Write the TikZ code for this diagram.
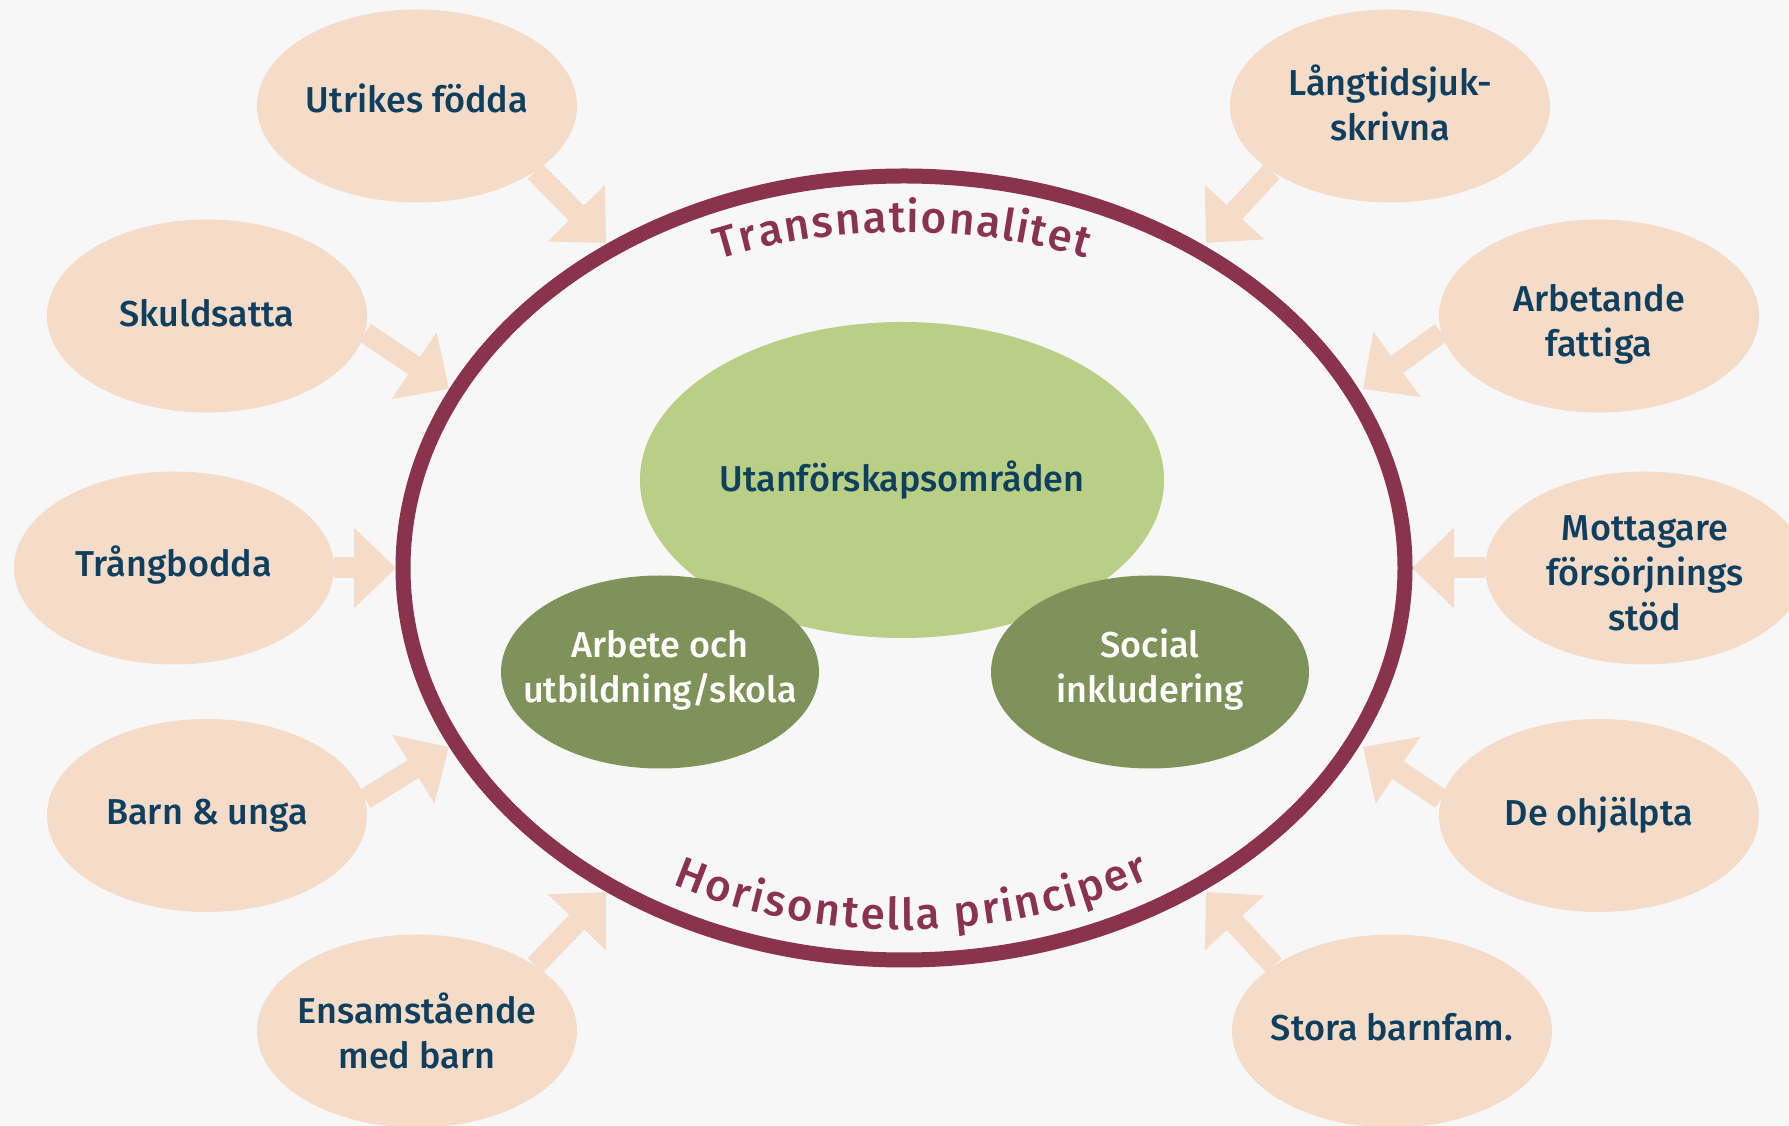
\documentclass[tikz,border=0pt]{standalone}
\usepackage{fontspec}
\setmainfont{Fira Sans Medium}
\usetikzlibrary{shapes.geometric,arrows.meta,decorations.text}
\definecolor{bg}{HTML}{F7F7F7}
\definecolor{peach}{HTML}{F5DCC9}
\definecolor{maroon}{HTML}{8A334E}
\definecolor{lgreen}{HTML}{B8CF85}
\definecolor{dgreen}{HTML}{7E9259}
\definecolor{navy}{HTML}{0F3F5F}
\newcommand{\lblsize}{\fontsize{18pt}{22.5pt}\selectfont}
\newcommand{\curvesize}{\fontsize{22pt}{26pt}\selectfont}
\tikzset{
  peachbox/.style={ellipse, fill=peach, minimum width=160pt, minimum height=96.5pt, inner sep=0pt},
  lbl/.style={align=center, text=navy, font=\lblsize, inner sep=0pt},
  wlbl/.style={align=center, text=white, font=\lblsize, inner sep=0pt},
  arr/.style={draw=peach, line width=10.5pt, -{Triangle[length=21pt,width=39pt]}},
  darkbox/.style={ellipse, fill=dgreen, minimum width=159pt, minimum height=96.5pt, inner sep=0pt},
  curvetext/.style={decorate, decoration={text effects along path, text={#1},
    text effects/.cd, text along path, fit text to path,
    characters={text=maroon, font=\curvesize}}},
}
\begin{document}
\begin{tikzpicture}[x=0.5pt,y=0.5pt]
\useasboundingbox (0,0) rectangle (1789,1125);
\clip (0,0) rectangle (1789,1125);
\fill[bg] (0,0) rectangle (1789,1125);
% arrow tips on the outer edge of the big ring
\coordinate (t1) at (606,882);
\coordinate (t2) at (449,736);
\coordinate (t3) at (396,557);
\coordinate (t4) at (449,378);
\coordinate (t5) at (606,233);
\coordinate (t6) at (1206,882);
\coordinate (t7) at (1363,736);
\coordinate (t8) at (1412,557);
\coordinate (t9) at (1363,378);
\coordinate (t10) at (1206,233);
% peach ellipses
\node[peachbox] (utr) at (417,1019) {};
\node[peachbox] (sku) at (207,809) {};
\node[peachbox] (tra) at (174,557) {};
\node[peachbox] (bar) at (207,309.5) {};
\node[peachbox] (ens) at (417,94) {};
\node[peachbox] (lan) at (1390,1019) {};
\node[peachbox] (arb) at (1599,809) {};
\node[peachbox] (mot) at (1645,557) {};
\node[peachbox] (deo) at (1599,309.5) {};
\node[peachbox] (sto) at (1392,94) {};
% arrows
\draw[arr] (utr.-29) -- (t1);
\draw[arr] (sku.-6) -- (t2);
\draw[arr] (tra.0) -- (t3);
\draw[arr] (bar.6) -- (t4);
\draw[arr] (ens.29) -- (t5);
\draw[arr] (lan.209) -- (t6);
\draw[arr] (arb.186) -- (t7);
\draw[arr] (mot.180) -- (t8);
\draw[arr] (deo.174) -- (t9);
\draw[arr] (sto.151) -- (t10);
% labels
\node[lbl] (utrl) at ([yshift=4pt]utr) {Utrikes födda};
\node[lbl] (skul) at ([yshift=1.5pt]sku) {Skuldsatta};
\node[lbl] (tral) at ([yshift=1.5pt]tra) {Trångbodda};
\node[lbl] (barl) at (bar) {Barn \& unga};
\node[lbl] (ensl) at (ens) {Ensamstående\\med barn};
\node[lbl] (lanl) at ([yshift=1.5pt]lan) {Långtidsjuk-\\skrivna};
\node[lbl] (arbl) at ([yshift=-4pt]arb) {Arbetande\\fattiga};
\node[lbl] (motl) at ([yshift=-2.5pt]mot) {Mottagare\\försörjnings\\stöd};
\node[lbl] (deol) at (deo) {De ohjälpta};
\node[lbl] (stol) at ([yshift=2pt]sto) {Stora barnfam.};
% main ring
\node[ellipse, draw=maroon, line width=7.5pt, minimum width=501pt, minimum height=392pt, inner sep=0pt] (ring) at (904,557) {};
% green areas
\node[ellipse, fill=lgreen, minimum width=262pt, minimum height=158pt, inner sep=0pt] (big) at (902,645) {};
\node[lbl] (bigl) at (big) {Utanförskapsområden};
\node[darkbox] (arbe) at (660,453) {};
\node[darkbox] (soc) at (1150,453) {};
\node[wlbl] (arbel) at ([yshift=1pt]arbe) {Arbete och\\utbildning/skola};
\node[wlbl] (socl) at ([yshift=1pt]soc) {Social\\inkludering};
% curved texts
\path[curvetext={Transnationalitet}]
  (718.9,865.8) arc[start angle=113.2, end angle=67.2, x radius=235pt, y radius=168pt];
\path[curvetext={Horisontella principer}]
  (672.3,240.4) arc[start angle=241, end angle=301, x radius=239pt, y radius=181pt];
\end{tikzpicture}
\end{document}
